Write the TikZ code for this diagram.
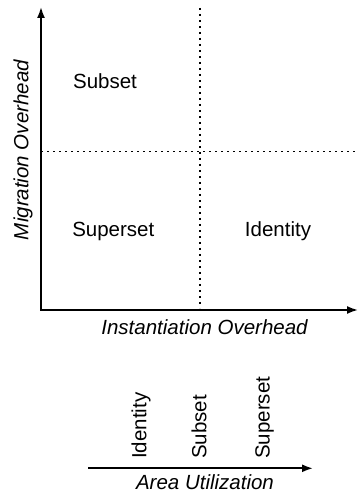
\documentclass[tikz,border=0pt]{standalone}
\usepackage{fontspec}
\setmainfont{Liberation Sans}
\usetikzlibrary{arrows.meta}
\begin{document}
\begin{tikzpicture}[x=1pt,y=1pt,
  axis/.style={line width=1.8pt,-{Latex[length=11pt,width=8pt]}},
  guide/.style={line width=1.6pt,dash pattern=on 1.6pt off 4.4pt},
  lbl/.style={font=\fontsize{20.5}{24}\selectfont,inner sep=0pt,anchor=base},
  axlbl/.style={lbl,font=\fontsize{20.5}{24}\selectfont\itshape},
  vlbl/.style={lbl,rotate=90,anchor=base west}]
  \useasboundingbox (0,0) rectangle (359,495);

  % quadrant axes
  \coordinate (O) at (41,185);
  \coordinate (ytip) at (41,488);
  \coordinate (xtip) at (358,185);
  \draw[axis] (O) -- (ytip);
  \draw[axis] (O) -- (xtip);
  \draw[line width=1.8pt] (41,184.1) -- (41,186);

  % dotted dividers
  \coordinate (hl) at (41,343.5);
  \coordinate (hr) at (355,343.5);
  \coordinate (vt) at (200,487);
  \coordinate (vb) at (200,187);
  \draw[guide] (hl) -- (hr);
  \draw[guide] (vt) -- (vb);

  % quadrant labels
  \node[lbl] (subset) at (105,406.7) {Subset};
  \node[lbl] (superset) at (113.3,258.3) {Superset};
  \node[lbl] (identity) at (278,258.2) {Identity};

  % axis titles
  \node[axlbl] (xlab) at (204.5,160) {Instantiation Overhead};
  \node[axlbl,rotate=90] (ylab) at (28.3,345) {Migration Overhead};

  % area utilization scale
  \coordinate (as) at (88,26.7);
  \coordinate (ae) at (313,26.7);
  \draw[axis] (as) -- (ae);
  \node[axlbl] (alab) at (205,5.7) {Area Utilization};
  \node[vlbl] (aid) at (146.4,36) {Identity};
  \node[vlbl] (asub) at (206.4,36) {Subset};
  \node[vlbl] (asup) at (269.7,36) {Superset};
\end{tikzpicture}
\end{document}
